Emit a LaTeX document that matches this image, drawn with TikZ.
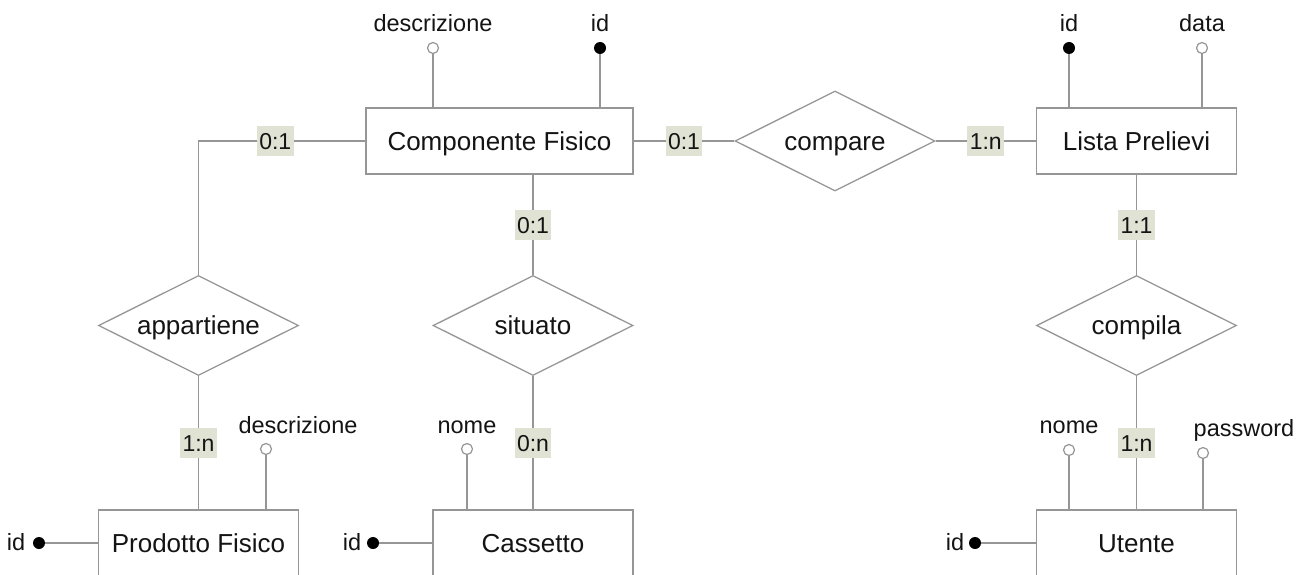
\documentclass[tikz,border=0pt]{standalone}
\usepackage{fontspec}
\setmainfont{Liberation Sans}
\usetikzlibrary{shapes.geometric}

\definecolor{linegray}{RGB}{150,150,150}
\definecolor{cardfill}{RGB}{224,227,211}
\definecolor{inkblack}{RGB}{20,20,20}

\begin{document}
\begin{tikzpicture}[x=1pt,y=-1pt,
  conn/.style={draw=linegray, line width=1.3pt},
  entity/.style={draw=linegray, line width=1.3pt, fill=white, rectangle,
    minimum width=200pt, minimum height=66pt, inner sep=0pt,
    font=\fontsize{26}{31}\selectfont, text=inkblack,
    text height=18.5pt, text depth=0pt},
  relation/.style={draw=linegray, line width=1.3pt, fill=white, diamond,
    aspect=2, minimum width=200pt, minimum height=100pt, inner sep=0pt,
    font=\fontsize{26}{31}\selectfont, text=inkblack,
    text height=18.5pt, text depth=0pt},
  card/.style={fill=cardfill, inner xsep=2.5pt, inner ysep=0pt,
    minimum height=30pt, text height=17pt, text depth=0pt,
    font=\fontsize{23}{28}\selectfont, text=inkblack},
  attrtext/.style={font=\fontsize{23.5}{28}\selectfont, text=inkblack,
    anchor=base, inner sep=0pt},
  keydot/.style={circle, fill=black, minimum size=12pt, inner sep=0pt},
  opendot/.style={circle, draw=linegray, line width=1.2pt, fill=white,
    minimum size=11pt, inner sep=0pt},
]
\clip (0,0) rectangle (1306,575);
\fill[white] (0,0) rectangle (1306,575);

% entities
\node[entity, minimum width=267pt] (cf) at (499.5,141) {Componente Fisico};
\node[entity] (lp) at (1136.5,141) {Lista Prelievi};
\node[entity] (pf) at (198.5,543) {Prodotto Fisico};
\node[entity] (ca) at (533,543) {Cassetto};
\node[entity] (ut) at (1136.5,543) {Utente};

% relationships
\node[relation] (app) at (198.5,325.5) {appartiene};
\node[relation] (sit) at (533,325.5) {situato};
\node[relation] (cmp) at (835,141) {compare};
\node[relation] (cpl) at (1136.5,325.5) {compila};

% connectors with cardinalities
\coordinate (bend) at (cf.west -| app.north);
\draw[conn] (cf.west) -- node[card, pos=0.54] {0:1} (bend) -- (app.north);
\draw[conn] (app.south) -- node[card] {1:n} (pf.north);
\coordinate (cfsit) at (sit.north |- cf.south);
\draw[conn] (cfsit) -- node[card] {0:1} (sit.north);
\draw[conn] (sit.south) -- node[card] {0:n} (ca.north);
\draw[conn] (cf.east) -- node[card] {0:1} (cmp.west);
\draw[conn] (cmp.east) -- node[card] {1:n} (lp.west);
\draw[conn] (lp.south) -- node[card] {1:1} (cpl.north);
\draw[conn] (cpl.south) -- node[card] {1:n} (ut.north);

% attributes of Componente Fisico
\node[opendot] (cfdesc) at (433,48) {};
\node[attrtext] (cfdesct) at (433,32) {descrizione};
\draw[conn] (cfdesc) -- (cfdesc |- cf.north);
\node[keydot] (cfid) at (600,48) {};
\node[attrtext] (cfidt) at (600,32) {id};
\draw[conn] (cfid) -- (cfid |- cf.north);

% attributes of Lista Prelievi
\node[keydot] (lpid) at (1069,48) {};
\node[attrtext] (lpidt) at (1069,32) {id};
\draw[conn] (lpid) -- (lpid |- lp.north);
\node[opendot] (lpdata) at (1202,48) {};
\node[attrtext] (lpdatat) at (1202,32) {data};
\draw[conn] (lpdata) -- (lpdata |- lp.north);

% attributes of Prodotto Fisico
\node[opendot] (pfdesc) at (266,449) {};
\node[attrtext] (pfdesct) at (298,433) {descrizione};
\draw[conn] (pfdesc) -- (pfdesc |- pf.north);
\node[keydot] (pfid) at (39,543) {};
\node[attrtext] (pfidt) at (16,550) {id};
\draw[conn] (pfid) -- (pf.west);

% attributes of Cassetto
\node[opendot] (canome) at (467,449) {};
\node[attrtext] (canomet) at (467,433) {nome};
\draw[conn] (canome) -- (canome |- ca.north);
\node[keydot] (caid) at (373,543) {};
\node[attrtext] (caidt) at (352,550) {id};
\draw[conn] (caid) -- (ca.west);

% attributes of Utente
\node[opendot] (utnome) at (1069,450) {};
\node[attrtext] (utnomet) at (1069,433) {nome};
\draw[conn] (utnome) -- (utnome |- ut.north);
\node[opendot] (utpwd) at (1203,453) {};
\node[attrtext] (utpwdt) at (1244,436) {password};
\draw[conn] (utpwd) -- (utpwd |- ut.north);
\node[keydot] (utid) at (975,543) {};
\node[attrtext] (utidt) at (955,550) {id};
\draw[conn] (utid) -- (ut.west);
\end{tikzpicture}
\end{document}
